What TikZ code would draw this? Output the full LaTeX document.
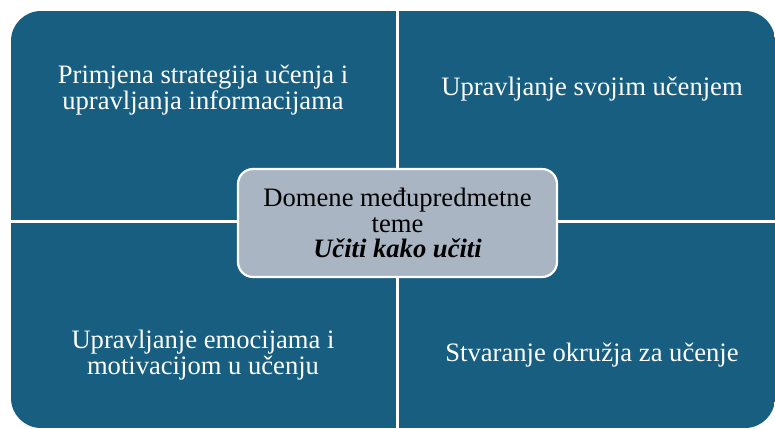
\documentclass[tikz,border=0pt]{standalone}
\usepackage{fontspec}
\setmainfont{Liberation Serif}
\definecolor{DomainBlue}{HTML}{175E81}
\definecolor{CoreGray}{HTML}{A9B5C2}
\usetikzlibrary{positioning}

\begin{document}
\begin{tikzpicture}[x=1pt, y=-1pt,
  quadtext/.style={align=center, text=white, font=\fontsize{26.6}{26.6}\selectfont},
  core/.style={draw=white, line width=2.2pt, fill=CoreGray, rounded corners=15pt,
    minimum width=319pt, minimum height=108pt, align=center, inner sep=0pt,
    font=\fontsize{26.6}{25.5}\selectfont}]
  \useasboundingbox (0,0) rectangle (775,428);
  % Quadrants
  \begin{scope}
    \clip[rounded corners=30pt] (11,11) rectangle (775,428);
    \fill[DomainBlue] (11,11) rectangle (396,220);
    \fill[DomainBlue] (399,11) rectangle (775,220);
    \fill[DomainBlue] (11,223) rectangle (396,428);
    \fill[DomainBlue] (399,223) rectangle (775,428);
  \end{scope}
  % Domain labels
  \node[quadtext] (strategije) at (203,90) {Primjena strategija učenja i\\upravljanja informacijama};
  \node[quadtext] (ucenje) at (592,89) {Upravljanje svojim učenjem};
  \node[quadtext] (emocije) at (203,355) {Upravljanje emocijama i\\motivacijom u učenju};
  \node[quadtext] (okruzje) at (592,355) {Stvaranje okružja za učenje};
  % Centre
  \node[core] (tema) at (397.5,223) {Domene međupredmetne\\teme\\\textbf{\textit{Učiti kako učiti}}};
\end{tikzpicture}
\end{document}
